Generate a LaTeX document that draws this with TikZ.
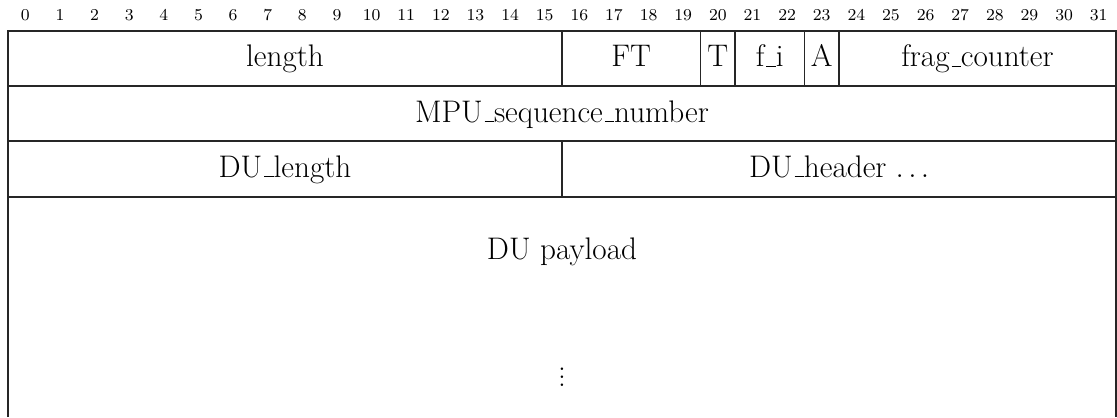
\documentclass[tikz,border=0pt]{standalone}
\begin{document}
% rule-style underscore, as in classic LaTeX
\newcommand{\us}{\leavevmode\kern.06em\vbox{\hrule width.3em}}
\begin{tikzpicture}[x=0.5pt,y=-0.5pt,
  frame/.style={line width=0.75pt,black!85},
  field/.style={anchor=base,inner sep=0pt,font=\fontsize{15.6}{18}\selectfont},
  bitnum/.style={anchor=base,inner sep=0pt,font=\fontsize{8.3}{10}\selectfont}]
\useasboundingbox (0,0) rectangle (1117,417);
\def\bw{34.625}
% bit numbers
\foreach \i in {0,...,31}
  \node[bitnum] (b\i) at ({8+(\i+0.5)*\bw},21) {\i};
% outer frame and row separators
\draw[frame] (8,417) -- (8,31) -- (1116,31) -- (1116,417);
\draw[frame] (8,86) -- (1116,86);
\draw[frame] (8,141) -- (1116,141);
\draw[frame] (8,197) -- (1116,197);
% field separators, first word
\foreach \b in {16,20,21,23,24}
  \draw[frame] ({8+\b*\bw},31) -- ({8+\b*\bw},86);
% field separator, third word
\draw[frame] ({8+16*\bw},141) -- ({8+16*\bw},197);
% field labels
\node[field] (len) at ({8+8*\bw},67) {length};
\node[field] (ft) at ({8+18*\bw},67) {FT};
\node[field] (t) at ({8+20.5*\bw},67) {T};
\node[field] (fi) at ({8+22*\bw},67) {f\us i};
\node[field] (a) at ({8+23.5*\bw},67) {A};
\node[field] (fc) at ({8+28*\bw},67) {frag\us counter};
\node[field] (mpu) at ({8+16*\bw},122) {MPU\us sequence\us number};
\node[field] (dul) at ({8+8*\bw},177) {DU\us length};
\node[field] (duh) at ({8+24*\bw},177) {DU\us header $\ldots$};
\node[field] (dup) at ({8+16*\bw},259) {DU payload};
\node[field,anchor=center] (vd) at ({8+16*\bw},371) {$\vdots$};
\end{tikzpicture}
\end{document}
